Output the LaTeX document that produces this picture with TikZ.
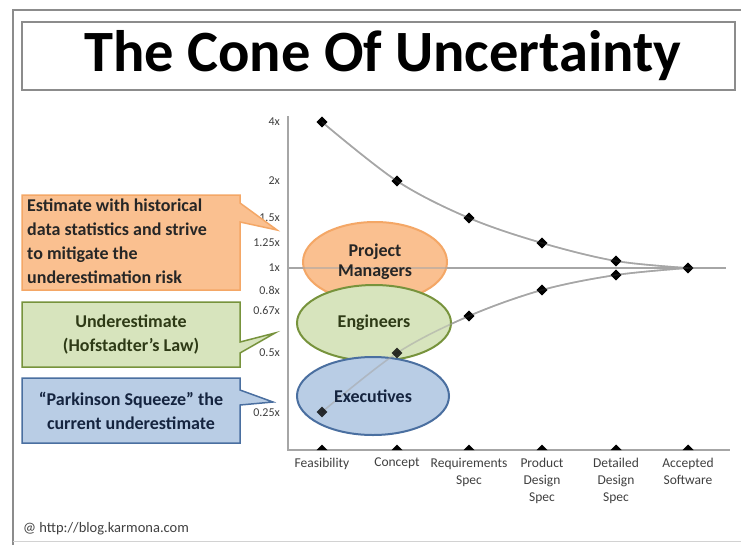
\documentclass[tikz,border=0pt]{standalone}
\usepackage{fontspec}
\setmainfont{Carlito}
\usetikzlibrary{shapes.geometric}
\definecolor{framecol}{HTML}{8C8C8C}
\definecolor{orfill}{HTML}{FAC090}
\definecolor{ordraw}{HTML}{F4A766}
\definecolor{grfill}{HTML}{D7E4BD}
\definecolor{grdraw}{HTML}{77933C}
\definecolor{blfill}{HTML}{B9CDE5}
\definecolor{bldraw}{HTML}{4A6FA0}
\definecolor{curvecol}{HTML}{A6A6A6}
\definecolor{ticktext}{HTML}{404040}
\definecolor{grtext}{HTML}{2E3A16}
\definecolor{bltext}{HTML}{15243F}
\begin{document}
\begin{tikzpicture}[x=1pt,y=-1pt,
  marker/.style={diamond, fill=black, inner sep=0pt, minimum size=11pt},
  ticklab/.style={anchor=east, text=ticktext, font=\fontsize{12}{12}\selectfont, inner sep=0pt},
  catlab/.style={anchor=north, align=center, text=ticktext, font=\fontsize{13.5}{17}\selectfont, inner sep=0pt},
  bubble/.style={ellipse, line width=2pt, font=\bfseries\fontsize{18}{22}\selectfont, align=center, inner sep=0pt},
  calloutbox/.style={line width=1.5pt},
  ctext/.style={font=\bfseries\fontsize{18}{24}\selectfont, inner sep=0pt},
  curveline/.style={draw=curvecol, line width=1.6pt},
]
\useasboundingbox (0,0) rectangle (741,544);
\fill[white] (0,0) rectangle (741,544);
% outer frame
\draw[framecol, line width=2.5pt] (13,546) -- (13,10) -- (745,10);
\draw[gray!35, line width=1pt] (13,541) -- (741,541);
% title
\node[draw=framecol, line width=1.5pt, minimum width=713pt, minimum height=68pt, inner sep=0pt] (title) at (378.5,56) {};
\node[inner sep=0pt, font=\bfseries\fontsize{58.5}{58}\selectfont] (titleTxt) at (383,56) {The Cone Of Uncertainty};

% axes
\coordinate (ytop) at (288,116);
\coordinate (O) at (288,450);
\coordinate (xend) at (730,450);
\coordinate (oneA) at (288,268);
\coordinate (oneB) at (726,268);

% tick labels
\foreach \lab/\yy in {4x/122,2x/181,1.5x/218,1.25x/243,1x/268,0.8x/290,0.67x/310,0.5x/353,0.25x/413}
  \node[ticklab] at (280,\yy) {\lab};

% data coordinates
\coordinate (u1) at (322,122);
\coordinate (u2) at (397,181);
\coordinate (u3) at (469,218);
\coordinate (u4) at (542,243);
\coordinate (u5) at (616,261);
\coordinate (u6) at (688,268);
\coordinate (l1) at (322,412);
\coordinate (l2) at (397,353);
\coordinate (l3) at (469,316);
\coordinate (l4) at (542,290);
\coordinate (l5) at (616,275);
\coordinate (l6) at (688,268);

% chart (drawn twice: plain, then translucent over the ellipses)
\foreach \op/\mop in {1/1,0.55/0.8}{
  \begin{scope}[opacity=\op]
  \draw[curveline] (ytop) -- (O) -- (xend);
  \draw[curveline] (oneA) -- (oneB);
  \draw[curveline] plot[smooth, tension=0.55] coordinates {(u1) (u2) (u3) (u4) (u5) (u6)};
  \draw[curveline] plot[smooth, tension=0.55] coordinates {(l1) (l2) (l3) (l4) (l5) (l6)};
  \end{scope}
  \begin{scope}[opacity=\mop]
  \foreach \p in {u1,u2,u3,u4,u5,u6,l1,l2,l3,l4,l5}
    \node[marker] at (\p) {};
  \end{scope}
  \ifdim\op pt=1pt
  % ellipses
  \node[bubble, fill=orfill, draw=ordraw, minimum width=144pt, minimum height=80pt] (pm) at (375,262) {};
  \node[bubble, fill=grfill, draw=grdraw, minimum width=154pt, minimum height=76pt] (eng) at (374,323) {};
  \node[bubble, fill=blfill, draw=bldraw, minimum width=152pt, minimum height=78pt] (exe) at (373,396) {};
  \fi
}
\node[bubble, text=black!85] (pmTxt) at (pm.center) {Project\\[-2pt]Managers};
\node[bubble, text=grtext] (engTxt) at (eng.center) {Engineers};
\node[bubble, text=bltext] (exeTxt) at (exe.center) {Executives};

% axis markers and category labels
\foreach \i/\xx/\lab in {1/322/Feasibility,2/397/Concept,3/469/{Requirements\\Spec},4/542/{Product\\Design\\Spec},5/616/{Detailed\\Design\\Spec},6/688/{Accepted\\Software}}{
  \coordinate (f\i) at (\xx,450);
  \fill (f\i) ++(-5.5,0) -- ++(5.5,-5.5) -- ++(5.5,5.5) -- cycle;
  \node[catlab] (c\i) at (\xx,458) {\lab};
}

% callouts
\filldraw[calloutbox, fill=orfill, draw=ordraw] (22,195) -- (240,195) -- (240,203) -- (277,230) -- (240,222) -- (240,290) -- (22,290) -- cycle;
\node[ctext, anchor=north west, align=left, text=black!85] (orTxt) at (27,199)
  {Estimate with historical\\data statistics and strive\\to mitigate the\\underestimation risk};

\filldraw[calloutbox, fill=grfill, draw=grdraw] (22,302) -- (240,302) -- (240,342) -- (275,333) -- (240,353) -- (240,367) -- (22,367) -- cycle;
\node[ctext, align=center, text=grtext] (grTxt) at (131,335) {Underestimate\\(Hofstadter's Law)};

\filldraw[calloutbox, fill=blfill, draw=bldraw] (22,378) -- (240,378) -- (240,390) -- (273,402) -- (240,405) -- (240,443) -- (22,443) -- cycle;
\node[ctext, align=center, text=bltext] (blTxt) at (131,411) {``Parkinson Squeeze'' the\\current underestimate};

% credit
\node[anchor=west, inner sep=0pt, text=black!75, font=\fontsize{14.5}{14}\selectfont] (credit) at (23,529) {@ http://blog.karmona.com};
\end{tikzpicture}
\end{document}
